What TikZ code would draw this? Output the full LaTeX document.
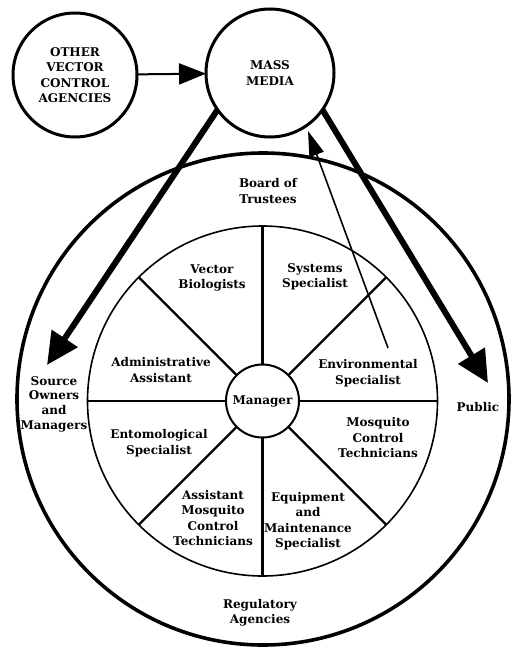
\documentclass[tikz,border=0pt]{standalone}
\usepackage{fontspec}
\setmainfont{DejaVu Serif}
\usetikzlibrary{arrows.meta}
\begin{document}
\begin{tikzpicture}[x=1pt,y=-1pt,
  lbl/.style={font=\bfseries\fontsize{12}{15.5}\selectfont, align=center, inner sep=0pt},
  ring/.style={circle, draw, inner sep=0pt, outer sep=0pt},
  spoke/.style={line width=2.4pt},
  bigarrow/.style={line width=6pt, -{Triangle[length=32pt,width=30pt]}},
  thinarrow/.style={line width=1.6pt, -{Triangle[length=25pt,width=15pt]}},
  medarrow/.style={line width=2pt, -{Triangle[length=27pt,width=21pt]}}]
\useasboundingbox (0,0) rectangle (511,653);
% top circles
\node[ring, line width=3pt, minimum size=124pt, lbl] (other) at (75,75) {OTHER\\VECTOR\\CONTROL\\AGENCIES};
\node[ring, line width=3pt, minimum size=128pt, lbl] (media) at (270,73) {MASS\\MEDIA};
% organisation rings
\node[ring, line width=3.6pt, minimum size=492pt] (outer) at (263,399) {};
\node[ring, line width=1.6pt, minimum size=350pt] (inner) at (262.5,401) {};
\node[ring, line width=2pt, minimum size=73pt, lbl] (mgr) at (262.5,401) {Manager};
\foreach \a in {0,45,...,315} \draw[spoke] (mgr.\a) -- (inner.\a);
% labels
\node[lbl] (board) at (268,191) {Board of\\Trustees};
\node[lbl] (vector) at (212,278) {Vector\\Biologists};
\node[lbl] (systems) at (315,277) {Systems\\Specialist};
\node[lbl] (admin) at (161,370) {Administrative\\Assistant};
\node[lbl] (env) at (368,373) {Environmental\\Specialist};
\node[lbl, font=\bfseries\fontsize{12}{14.7}\selectfont] (source) at (54,404) {Source\\Owners\\and\\Managers};
\node[lbl] (public) at (478,407) {Public};
\node[lbl] (ento) at (159,443) {Entomological\\Specialist};
\node[lbl] (mosq) at (378,438) {Mosquito\\Control\\Technicians};
\node[lbl] (asst) at (213,518) {Assistant\\Mosquito\\Control\\Technicians};
\node[lbl] (equip) at (308,521) {Equipment\\and\\Maintenance\\Specialist};
\node[lbl] (reg) at (260,613) {Regulatory\\Agencies};
% connectors
\coordinate (srctip) at (47,365);
\coordinate (pubtip) at (488,383);
\coordinate (envstart) at (388,348);
\coordinate (medtip) at (308,131);
\draw[medarrow] (other) -- (media);
\draw[bigarrow] (media.215) -- (srctip);
\draw[bigarrow] (media.325) -- (pubtip);
\draw[thinarrow] (envstart) -- (medtip);
\end{tikzpicture}
\end{document}
